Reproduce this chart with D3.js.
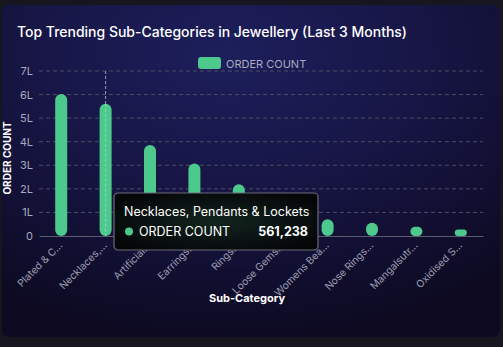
<!DOCTYPE html>
<html>
<head>
<meta charset="utf-8">
<script src="https://cdn.jsdelivr.net/npm/d3@7/dist/d3.min.js"></script>
<style>
  html, body { margin: 0; padding: 0; background: #17161f; }
  svg { display: block; }
  text { font-family: Inter, "Noto Sans", sans-serif; }
</style>
</head>
<body>
<svg id="chart" width="503" height="347"></svg>
<script>
// Sub-categories (full names) and the truncated tick labels shown on the axis
const subCategories = [
  "Plated & Coated Jewellery",
  "Necklaces, Pendants & Lockets",
  "Artificial Jewellery",
  "Earrings",
  "Rings",
  "Loose Gemstones",
  "Womens Bangles & Bracelets",
  "Nose Rings & Pins",
  "Mangalsutra",
  "Oxidised Silver Jewellery"
];
const tickLabels = [
  "Plated & C...", "Necklaces,...", "Artificial...", "Earrings...", "Rings...",
  "Loose Gems...", "Womens Bea...", "Nose Rings...", "Mangalsutr...", "Oxidised S..."
];
const orderCount = [602000, 561238, 386000, 308000, 220000, 105000, 71000, 56000, 39000, 28000];
const yTickValues = [0, 100000, 200000, 300000, 400000, 500000, 600000, 700000];
const yTickLabels = ["0", "1L", "2L", "3L", "4L", "5L", "6L", "7L"];
const seriesName = "ORDER COUNT";
const hoveredIndex = 1;

const svg = d3.select("#chart");
const W = 503, H = 347;
const barColor = "#4dc98e";

// Card background
const defs = svg.append("defs");
const bg = defs.append("radialGradient").attr("id", "cardBg")
  .attr("cx", "45%").attr("cy", "15%").attr("r", "85%");
bg.append("stop").attr("offset", "0%").attr("stop-color", "#1d1f5c");
bg.append("stop").attr("offset", "45%").attr("stop-color", "#171646");
bg.append("stop").attr("offset", "100%").attr("stop-color", "#0d0a22");

const tipBg = defs.append("radialGradient").attr("id", "tipBg")
  .attr("cx", "50%").attr("cy", "50%").attr("r", "60%");
tipBg.append("stop").attr("offset", "0%").attr("stop-color", "#12251f");
tipBg.append("stop").attr("offset", "100%").attr("stop-color", "#050608");

svg.append("rect").attr("x", 2).attr("y", 5).attr("width", 498).attr("height", 332)
  .attr("rx", 7).attr("fill", "url(#cardBg)");

// Title
svg.append("text").attr("x", 17).attr("y", 37)
  .attr("fill", "#ffffff").attr("font-size", 13.8).attr("font-weight", 500)
  .attr("textLength", 390).attr("lengthAdjust", "spacingAndGlyphs")
  .text("Top Trending Sub-Categories in Jewellery (Last 3 Months)");

// Legend
svg.append("rect").attr("x", 198).attr("y", 57).attr("width", 23).attr("height", 12)
  .attr("rx", 3).attr("fill", barColor);
svg.append("text").attr("x", 226).attr("y", 67.5)
  .attr("fill", "#a9a9bd").attr("font-size", 11).text(seriesName);

// Scales
const margin = { left: 39, right: 20 };
const x = d3.scaleBand().domain(d3.range(subCategories.length))
  .range([margin.left, W - margin.right]).paddingInner(0).paddingOuter(0);
const y = d3.scaleLinear().domain([0, 700000]).range([236, 71]);

// Gridlines
svg.append("g").selectAll("line").data(yTickValues.slice(1)).join("line")
  .attr("x1", margin.left).attr("x2", W - margin.right)
  .attr("y1", d => y(d)).attr("y2", d => y(d))
  .attr("stroke", "#4c4c64").attr("stroke-dasharray", "4,3").attr("stroke-width", 1);

// Y axis labels
const yAxis = d3.axisLeft(y).tickValues(yTickValues)
  .tickFormat((d, i) => yTickLabels[i]).tickSize(0).tickPadding(6);
const gy = svg.append("g").attr("transform", `translate(${margin.left},0)`).call(yAxis);
gy.select(".domain").remove();
gy.selectAll("text").attr("fill", "#a9a9bd").attr("font-size", 11)
  .style("font-family", "Inter, 'Noto Sans', sans-serif");

// Hover guide line
svg.append("line")
  .attr("x1", x(hoveredIndex) + x.bandwidth() / 2).attr("x2", x(hoveredIndex) + x.bandwidth() / 2)
  .attr("y1", y(700000)).attr("y2", y(0))
  .attr("stroke", "#9a9ab0").attr("stroke-dasharray", "3,2").attr("stroke-width", 1);

// Bars (pill shaped)
const barW = 12;
svg.append("g").selectAll("rect").data(orderCount).join("rect")
  .attr("x", (d, i) => x(i) + x.bandwidth() / 2 - barW / 2)
  .attr("y", d => y(d))
  .attr("width", barW)
  .attr("height", d => y(0) - y(d))
  .attr("rx", d => Math.min(barW / 2, (y(0) - y(d)) / 2))
  .attr("fill", barColor);

// Guide line continues faintly over the hovered bar
svg.append("line")
  .attr("x1", x(hoveredIndex) + x.bandwidth() / 2).attr("x2", x(hoveredIndex) + x.bandwidth() / 2)
  .attr("y1", y(orderCount[hoveredIndex])).attr("y2", y(0))
  .attr("stroke", "#b5e8cf").attr("stroke-opacity", 0.6).attr("stroke-dasharray", "3,2").attr("stroke-width", 1);

// X axis
const xAxis = d3.axisBottom(x).tickFormat(i => tickLabels[i]).tickSize(0).tickPadding(0);
const gx = svg.append("g").attr("transform", `translate(0,${y(0)})`).call(xAxis);
gx.select(".domain").attr("stroke", "#5c5c70").attr("stroke-width", 1.2);
gx.selectAll("text")
  .attr("fill", "#9d9db2").attr("font-size", 10.2)
  .style("font-family", "Inter, 'Noto Sans', sans-serif")
  .attr("text-anchor", "end")
  .attr("dy", 0).attr("y", 0)
  .attr("transform", "translate(2,10) rotate(-45)");

// Axis titles
svg.append("text").attr("x", 247).attr("y", 302).attr("text-anchor", "middle")
  .attr("fill", "#ffffff").attr("font-size", 11).attr("font-weight", 700).text("Sub-Category");
svg.append("text").attr("transform", "translate(11,158) rotate(-90)").attr("text-anchor", "middle")
  .attr("fill", "#ffffff").attr("font-size", 10).attr("font-weight", 700).text(seriesName);

// Tooltip for the hovered category
const tip = svg.append("g").attr("transform", "translate(114,193)");
tip.append("rect").attr("width", 204).attr("height", 57).attr("rx", 4)
  .attr("fill", "url(#tipBg)").attr("stroke", "#6b6b78").attr("stroke-width", 1.2);
tip.append("text").attr("x", 10).attr("y", 23).attr("fill", "#ffffff").attr("font-size", 12.5)
  .text(subCategories[hoveredIndex]);
tip.append("circle").attr("cx", 15).attr("cy", 38.5).attr("r", 4).attr("fill", barColor);
tip.append("text").attr("x", 25).attr("y", 43).attr("fill", "#ffffff").attr("font-size", 12.5)
  .text(seriesName);
tip.append("text").attr("x", 194).attr("y", 43).attr("text-anchor", "end")
  .attr("fill", "#ffffff").attr("font-size", 12.5).attr("font-weight", 700)
  .text(d3.format(",")(orderCount[hoveredIndex]));
</script>
</body>
</html>
